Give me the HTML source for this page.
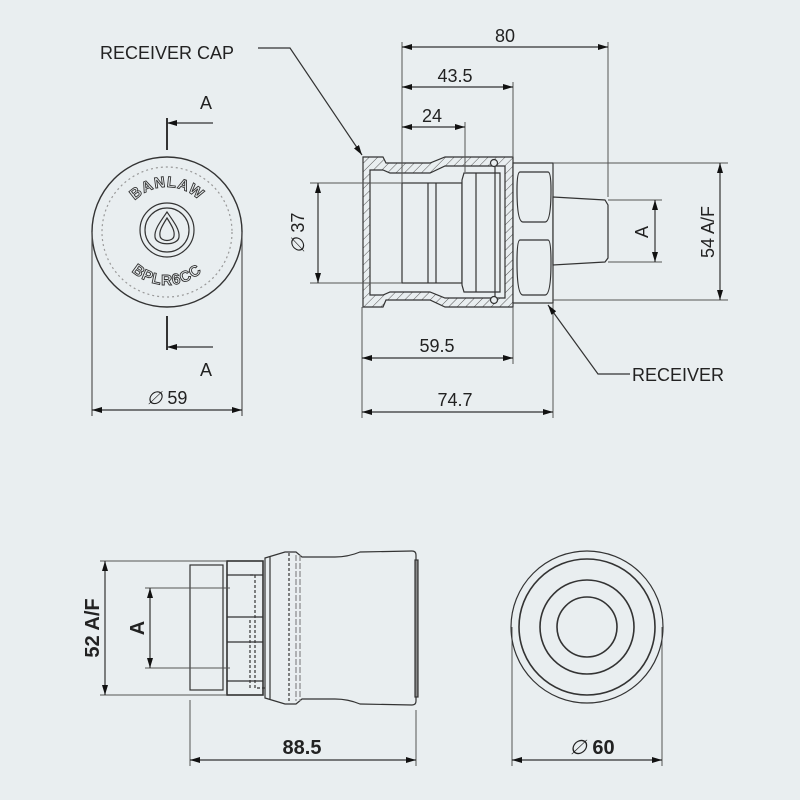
<!DOCTYPE html>
<html><head><meta charset="utf-8"><style>
html,body{margin:0;padding:0;background:#e9eef0}
svg{display:block}
text{font-family:"Liberation Sans",sans-serif;fill:#222}
</style></head><body>
<svg width="800" height="800" viewBox="0 0 800 800" xmlns="http://www.w3.org/2000/svg">
<defs>
<marker id="a" markerWidth="10" markerHeight="6" refX="10" refY="3" orient="auto-start-reverse" markerUnits="userSpaceOnUse"><path d="M0,0 L10,3 L0,6z" fill="#111"/></marker>
<pattern id="h" width="6" height="6" patternUnits="userSpaceOnUse" patternTransform="rotate(45)"><line x1="0" y1="0" x2="0" y2="6" stroke="#555" stroke-width="1"/></pattern>
<path id="arcTop" d="M122,232 A45,45 0 0 1 212,232"/>
<path id="arcBot" d="M114,232 A53,53 0 0 0 220,232"/>
</defs>
<rect width="800" height="800" fill="#e9eef0"/>
<g stroke="#333" stroke-width="1.2" fill="none">
<!-- top-left cap face -->
<circle cx="167" cy="232" r="75" stroke-width="1.4"/>
<circle cx="167" cy="232" r="65" stroke="#999" stroke-dasharray="2 3"/>
<circle cx="167" cy="230" r="27"/><circle cx="167" cy="230" r="22"/>
<path d="M167,212 C160,222 154,230 155,237 C156,246 178,246 179,237 C180,230 174,222 167,212z"/>
<path d="M167,218 C162,226 159,231 160,236 C161,242 173,242 174,236 C175,231 172,226 167,218z"/>
<line x1="92" y1="232" x2="92" y2="416" stroke="#555"/>
<line x1="242" y1="232" x2="242" y2="416" stroke="#555"/>
<line x1="92" y1="410" x2="242" y2="410" marker-start="url(#a)" marker-end="url(#a)"/>
<line x1="167" y1="118" x2="167" y2="150" stroke-width="2"/>
<line x1="167" y1="316" x2="167" y2="350" stroke-width="2"/>
<line x1="213" y1="123" x2="167" y2="123" marker-end="url(#a)"/>
<line x1="213" y1="347" x2="167" y2="347" marker-end="url(#a)"/>

<!-- side section -->
<path d="M363,157 L383,157 L386,163 L430,163 L445,157 L513,157 L513,307 L445,307 L430,300 L386,300 L383,307 L363,307z" fill="url(#h)" stroke="#333"/>
<path d="M370,170 L383,170 L390,173 L430,173 L445,166 L505,166 L505,298 L445,298 L430,292 L390,292 L383,295 L370,295z" fill="#e9eef0"/>
<rect x="402" y="183" width="60" height="100" fill="#e9eef0"/>
<path d="M428,183 L428,283 M436,183 L436,283"/>
<path d="M464,173 L500,173 L500,292 L464,292 L462,285 L462,180z" fill="#e9eef0"/>
<line x1="476" y1="173" x2="476" y2="292"/><line x1="495" y1="166" x2="495" y2="298"/>
<circle cx="494" cy="163" r="3.5" fill="#e9eef0"/><circle cx="494" cy="300" r="3.5" fill="#e9eef0"/>
<rect x="513" y="163" width="40" height="140" fill="#e9eef0"/>
<path d="M520,172 Q517,172 517,190 Q517,222 523,222 L545,222 Q551,222 551,190 Q551,172 548,172z"/>
<path d="M520,240 Q517,240 517,262 Q517,295 523,295 L545,295 Q551,295 551,262 Q551,240 548,240z"/>
<path d="M553,197 L605,200 L608,205 L608,258 L605,262 L553,265z" fill="#e9eef0"/>
<!-- side dims -->
<g stroke="#555" stroke-width="1">
<line x1="402" y1="42" x2="402" y2="183"/><line x1="608" y1="42" x2="608" y2="197"/>
<line x1="513" y1="82" x2="513" y2="157"/><line x1="465" y1="122" x2="465" y2="172"/>
<line x1="310" y1="183" x2="402" y2="183"/><line x1="310" y1="283" x2="402" y2="283"/>
<line x1="553" y1="163" x2="728" y2="163"/><line x1="553" y1="300" x2="728" y2="300"/>
<line x1="608" y1="200" x2="662" y2="200"/><line x1="608" y1="262" x2="662" y2="262"/>
<line x1="362" y1="307" x2="362" y2="418"/><line x1="513" y1="307" x2="513" y2="364"/><line x1="553" y1="303" x2="553" y2="418"/>
</g>
<line x1="402" y1="47" x2="608" y2="47" marker-start="url(#a)" marker-end="url(#a)"/>
<line x1="402" y1="87" x2="513" y2="87" marker-start="url(#a)" marker-end="url(#a)"/>
<line x1="402" y1="127" x2="465" y2="127" marker-start="url(#a)" marker-end="url(#a)"/>
<line x1="318" y1="183" x2="318" y2="283" marker-start="url(#a)" marker-end="url(#a)"/>
<line x1="720" y1="163" x2="720" y2="300" marker-start="url(#a)" marker-end="url(#a)"/>
<line x1="655" y1="200" x2="655" y2="262" marker-start="url(#a)" marker-end="url(#a)"/>
<line x1="362" y1="358" x2="513" y2="358" marker-start="url(#a)" marker-end="url(#a)"/>
<line x1="362" y1="412" x2="553" y2="412" marker-start="url(#a)" marker-end="url(#a)"/>
<polyline points="258,48 290,48 362,155" marker-end="url(#a)"/>
<polyline points="630,374 598,374 548,305" marker-end="url(#a)"/>

<!-- bottom left view -->
<rect x="190" y="565" width="33" height="125" fill="#e9eef0"/>
<rect x="227" y="561" width="36" height="134" fill="#e9eef0" stroke-width="1.6"/>
<line x1="227" y1="575" x2="263" y2="575"/><line x1="227" y1="617" x2="263" y2="617"/><line x1="227" y1="642" x2="263" y2="642"/><line x1="227" y1="681" x2="263" y2="681"/>
<path d="M250,575 L255,575 L255,688 L290,688 M250,688 L250,620" stroke-dasharray="3 2"/>
<path d="M265,558 L285,552 L296,552 L302,557 L335,557 Q348,557 360,552 L412,551 Q416,551 416,555 L416,701 Q416,705 412,705 L360,704 Q348,699 335,699 L302,699 L296,704 L285,704 L265,698z" fill="#e9eef0"/>
<line x1="270" y1="557" x2="270" y2="699"/>
<line x1="289" y1="553" x2="289" y2="703" stroke-dasharray="3 2"/>
<line x1="296" y1="555" x2="296" y2="701" stroke="#888" stroke-dasharray="6 2"/>
<line x1="300" y1="555" x2="300" y2="701" stroke="#888" stroke-dasharray="6 2"/>
<rect x="415" y="560" width="3" height="137" fill="#888"/>
<g stroke="#555" stroke-width="1">
<line x1="100" y1="561" x2="227" y2="561"/><line x1="100" y1="695" x2="227" y2="695"/>
<line x1="145" y1="588" x2="230" y2="588"/><line x1="145" y1="668" x2="230" y2="668"/>
<line x1="190" y1="700" x2="190" y2="766"/><line x1="416" y1="710" x2="416" y2="766"/>
<line x1="512" y1="627" x2="512" y2="766"/><line x1="662" y1="627" x2="662" y2="766"/>
</g>
<line x1="105" y1="561" x2="105" y2="695" marker-start="url(#a)" marker-end="url(#a)"/>
<line x1="150" y1="588" x2="150" y2="668" marker-start="url(#a)" marker-end="url(#a)"/>
<line x1="190" y1="760" x2="416" y2="760" marker-start="url(#a)" marker-end="url(#a)"/>
<line x1="512" y1="760" x2="662" y2="760" marker-start="url(#a)" marker-end="url(#a)"/>

<!-- bottom right -->
<circle cx="587" cy="627" r="76"/>
<circle cx="587" cy="627" r="68" stroke-width="1.6"/>
<circle cx="587" cy="627" r="47" stroke-width="1.6"/>
<circle cx="587" cy="627" r="30" stroke-width="1.6"/>
</g>
<g font-size="18">
<text x="100" y="59">RECEIVER CAP</text>
<text x="632" y="381">RECEIVER</text>
<text x="505" y="42" text-anchor="middle">80</text>
<text x="455" y="82" text-anchor="middle">43.5</text>
<text x="432" y="122" text-anchor="middle">24</text>
<text x="437" y="352" text-anchor="middle">59.5</text>
<text x="455" y="406" text-anchor="middle">74.7</text>
<text x="200" y="109">A</text>
<text x="200" y="376">A</text>
<text x="167" y="404" text-anchor="middle"><tspan font-style="italic">∅</tspan> 59</text>
<text transform="translate(304,233) rotate(-90)" text-anchor="middle"><tspan font-style="italic">∅</tspan> 37</text>
<text transform="translate(714,232) rotate(-90)" text-anchor="middle">54 A/F</text>
<text transform="translate(648,232) rotate(-90)" text-anchor="middle">A</text>
</g>
<g font-size="20" font-weight="bold">
<text transform="translate(99,628) rotate(-90)" text-anchor="middle">52 A/F</text>
<text transform="translate(144,628) rotate(-90)" text-anchor="middle">A</text>
<text x="302" y="754" text-anchor="middle">88.5</text>
<text x="592" y="754" text-anchor="middle"><tspan font-style="italic" font-weight="normal">∅</tspan> 60</text>
</g>
<g font-size="15" font-weight="bold" stroke="#333" stroke-width="0.9" letter-spacing="1">
<text style="fill:#e9eef0" text-anchor="middle"><textPath href="#arcTop" startOffset="50%">BANLAW</textPath></text>
<text style="fill:#e9eef0" text-anchor="middle" dy="0"><textPath href="#arcBot" startOffset="50%">BPLR6CC</textPath></text>
</g>
</svg>
</body></html>
